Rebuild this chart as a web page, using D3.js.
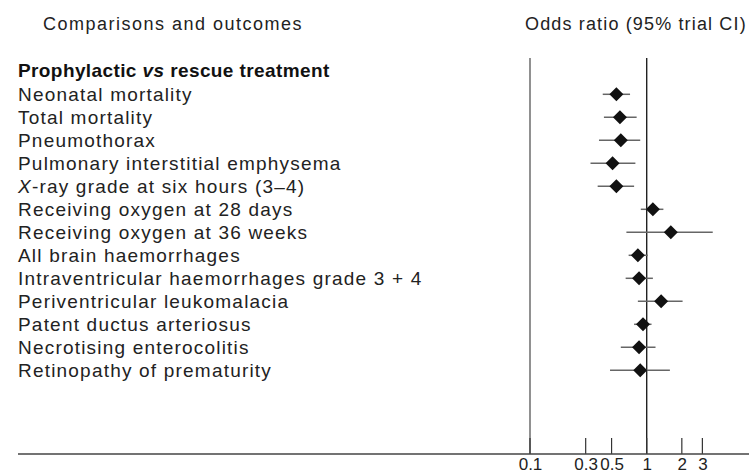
<!DOCTYPE html>
<html>
<head>
<meta charset="utf-8">
<script src="https://cdn.jsdelivr.net/npm/d3@7"></script>
<style>
  html, body { margin: 0; padding: 0; background: #fff; }
  svg { display: block; font-family: "Liberation Sans", Arial, Helvetica, sans-serif; }
</style>
</head>
<body>
<svg id="chart" width="749" height="475"></svg>
<script>
// ---- data ----
const outcomes = [
  "Neonatal mortality",
  "Total mortality",
  "Pneumothorax",
  "Pulmonary interstitial emphysema",
  "X-ray grade at six hours (3–4)",
  "Receiving oxygen at 28 days",
  "Receiving oxygen at 36 weeks",
  "All brain haemorrhages",
  "Intraventricular haemorrhages grade 3 + 4",
  "Periventricular leukomalacia",
  "Patent ductus arteriosus",
  "Necrotising enterocolitis",
  "Retinopathy of prematurity"
];
const oddsRatio = [0.55, 0.59, 0.60, 0.51, 0.55, 1.13, 1.61, 0.84, 0.86, 1.33, 0.93, 0.86, 0.88];
const ciLower   = [0.42, 0.43, 0.39, 0.33, 0.38, 0.89, 0.67, 0.70, 0.66, 0.84, 0.78, 0.60, 0.485];
const ciUpper   = [0.72, 0.82, 0.88, 0.80, 0.78, 1.39, 3.68, 1.02, 1.13, 2.03, 1.10, 1.19, 1.58];
const tickValues = [0.1, 0.3, 0.5, 1, 2, 3];
const tickLabels = ["0.1", "0.3", "0.5", "1", "2", "3"];
const leftHeader = "Comparisons and outcomes";
const rightHeader = "Odds ratio (95% trial CI)";

// ---- drawing ----
const svg = d3.select("#chart");
const x = d3.scaleLog().domain([0.1, 10]).range([530, 763.4]);
const y = d3.scalePoint().domain(outcomes).range([94.3, 370.3]);
const axisY = 454;
const textColor = "#222";

// headers
svg.append("text").attr("x", 43).attr("y", 30)
  .attr("font-size", 18).attr("letter-spacing", 1.5).attr("fill", textColor)
  .text(leftHeader);
svg.append("text").attr("x", 525).attr("y", 30)
  .attr("font-size", 18).attr("letter-spacing", 1.15).attr("fill", textColor)
  .text(rightHeader);

// group title
const title = svg.append("text").attr("x", 18).attr("y", 77)
  .attr("font-size", 19).attr("font-weight", "bold").attr("letter-spacing", 0.4).attr("fill", "#111");
title.append("tspan").text("Prophylactic ");
title.append("tspan").attr("font-style", "italic").text("vs");
title.append("tspan").text(" rescue treatment");

// outcome labels
svg.append("g").selectAll("text").data(outcomes).join("text")
  .attr("x", 18).attr("y", d => y(d) + 6.5)
  .attr("font-size", 19).attr("letter-spacing", 1.2).attr("fill", textColor)
  .each(function(d) {
    const t = d3.select(this);
    if (d.startsWith("X-")) {
      t.append("tspan").attr("font-style", "italic").text("X");
      t.append("tspan").text(d.slice(1));
    } else {
      t.text(d);
    }
  });

// vertical reference lines at 0.1 and 1
svg.append("line").attr("x1", x(0.1)).attr("x2", x(0.1)).attr("y1", 58).attr("y2", axisY)
  .attr("stroke", "#555").attr("stroke-width", 1.3);
svg.append("line").attr("x1", x(1)).attr("x2", x(1)).attr("y1", 58).attr("y2", axisY)
  .attr("stroke", "#222").attr("stroke-width", 1.4);

// axis
const axis = d3.axisBottom(x).tickValues(tickValues).tickSize(0).tickFormat((d, i) => tickLabels[i]);
const gAxis = svg.append("g").attr("transform", `translate(0,${axisY})`).call(axis);
gAxis.select(".domain").remove();
gAxis.selectAll("text").attr("font-size", 17).attr("fill", textColor)
  .attr("font-family", "Liberation Sans, Arial, sans-serif").attr("dy", null).attr("y", 16);
// upward ticks
svg.append("g").selectAll("line").data(tickValues).join("line")
  .attr("x1", d => x(d)).attr("x2", d => x(d)).attr("y1", axisY - 16).attr("y2", axisY)
  .attr("stroke", "#333").attr("stroke-width", 1.2);
svg.append("line").attr("x1", 18).attr("x2", 749).attr("y1", axisY).attr("y2", axisY)
  .attr("stroke", "#444").attr("stroke-width", 1.6);

// CI lines
const rows = outcomes.map((o, i) => ({ o, or: oddsRatio[i], lo: ciLower[i], hi: ciUpper[i] }));
svg.append("g").selectAll("line").data(rows).join("line")
  .attr("x1", d => x(d.lo)).attr("x2", d => x(d.hi))
  .attr("y1", d => y(d.o)).attr("y2", d => y(d.o))
  .attr("stroke", "#666").attr("stroke-width", 1.5);

// diamonds
const s = 7;
svg.append("g").selectAll("path").data(rows).join("path")
  .attr("d", d => {
    const cx = x(d.or), cy = y(d.o);
    return `M${cx},${cy - s}L${cx + s},${cy}L${cx},${cy + s}L${cx - s},${cy}Z`;
  })
  .attr("fill", "#111");
</script>
</body>
</html>
